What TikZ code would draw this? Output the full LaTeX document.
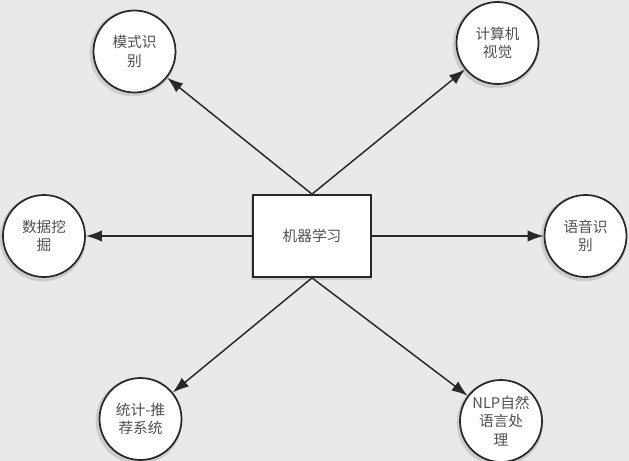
\documentclass[tikz,border=0pt]{standalone}
\usepackage{fontspec}
\setmainfont{Noto Sans CJK SC}
\usetikzlibrary{arrows.meta}
\definecolor{bg}{RGB}{233,233,233}
\definecolor{edge}{RGB}{40,40,40}
\definecolor{txt}{RGB}{80,80,80}
\tikzset{
  topic/.style={circle,draw=edge,line width=1.3pt,fill=white,minimum size=61.5pt,inner sep=0pt,
    align=center,text=txt,font=\fontsize{11}{14}\selectfont},
  hub/.style={rectangle,draw=edge,line width=1.3pt,fill=white,minimum width=88.5pt,minimum height=61.5pt,
    inner sep=0pt,text=txt,font=\fontsize{11}{14}\selectfont},
  arr/.style={draw=edge,line width=1.1pt,-{Latex[length=12pt,width=8.5pt]}},
  glow/.style={circle,fill=black,opacity=0.12,minimum size=65pt,inner sep=0pt},
}
\begin{document}
\begin{tikzpicture}[x=0.75pt,y=-0.75pt]
\fill[bg] (0,0) rectangle (629,461);
\useasboundingbox (0,0) rectangle (629,461);
% shadows
\foreach \p in {(133,53),(496,45),(43,238),(584,238),(139,421),(500,423)}{
  \node[glow] at \p {};
}
\fill[black,opacity=0.12] (251,196) rectangle (372,280);
% nodes
\node[hub] (ml) at (312,236) {机器学习};
\node[topic] (pr) at (134.5,51.5) {模式识\\别};
\node[topic] (cv) at (497.5,43) {计算机\\视觉};
\node[topic] (dm) at (44,236) {数据挖\\掘};
\node[topic] (sr) at (585.5,236) {语音识\\别};
\node[topic] (rs) at (140.5,419) {统计-推\\荐系统};
\node[topic] (nlp) at (501,421) {NLP自然\\语言处\\理};
% connectors
\draw[arr] (ml.north) -- (pr);
\draw[arr] (ml.north) -- (cv);
\draw[arr] (ml.west) -- (dm);
\draw[arr] (ml.east) -- (sr);
\draw[arr] (ml.south) -- (rs);
\draw[arr] (ml.south) -- (nlp);
\end{tikzpicture}
\end{document}
